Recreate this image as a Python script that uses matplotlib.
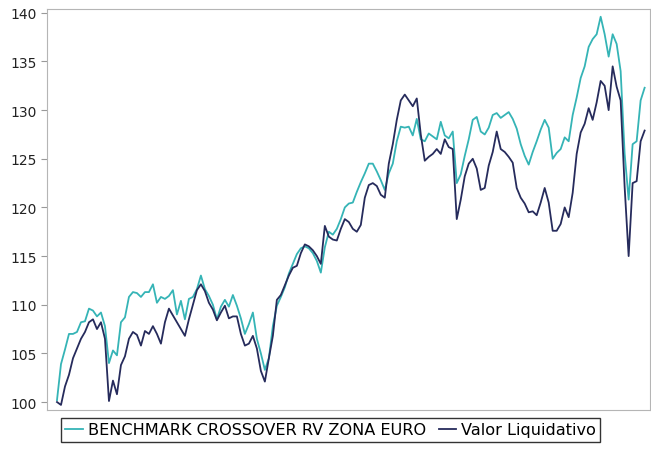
import matplotlib.pyplot as plt

# valores (base 100)
benchmark = [100.2, 103.9, 105.4, 107.0, 107.0, 107.2, 108.2, 108.3, 109.6, 109.4,
             108.8, 109.2, 107.8, 104.0, 105.3, 104.8, 108.2, 108.7, 110.8, 111.3,
             111.2, 110.8, 111.3, 111.3, 112.1, 110.2, 110.8, 110.6, 110.9, 111.5,
             109.0, 110.4, 108.5, 110.6, 110.8, 111.6, 113.0, 111.6, 110.9, 110.0,
             108.5, 109.8, 110.5, 109.8, 111.0, 109.9, 108.6, 107.0, 108.0, 109.2,
             106.5, 105.0, 103.3, 104.5, 107.8, 109.9, 110.8, 111.8, 113.2, 114.2,
             115.2, 115.8, 116.0, 115.8, 115.3, 114.5, 113.3, 115.9, 117.5, 117.2,
             117.8, 118.8, 120.0, 120.4, 120.5, 121.6, 122.6, 123.5, 124.5, 124.5,
             123.7, 122.8, 121.8, 123.5, 124.5, 126.8, 128.3, 128.2, 128.3, 127.4,
             129.1, 127.0, 126.8, 127.6, 127.3, 127.0, 128.8, 127.4, 127.1, 127.8,
             122.5, 123.4, 125.3, 127.0, 129.0, 129.3, 127.8, 127.5, 128.2, 129.5,
             129.7, 129.2, 129.5, 129.8, 129.1, 128.1, 126.5, 125.3, 124.4, 125.7,
             126.8, 128.0, 129.0, 128.2, 125.0, 125.6, 126.0, 127.2, 126.8, 129.5,
             131.3, 133.3, 134.5, 136.5, 137.3, 137.8, 139.6, 137.8, 135.5, 137.8,
             136.8, 134.0, 125.5, 120.8, 126.5, 126.8, 131.0, 132.3]

valor_liquidativo = [100.0, 99.7, 101.6, 102.8, 104.5, 105.5, 106.5, 107.2, 108.2, 108.5,
                     107.5, 108.2, 106.5, 100.1, 102.2, 100.8, 103.8, 104.7, 106.5, 107.2,
                     106.9, 105.8, 107.3, 107.0, 107.8, 107.0, 106.0, 108.2, 109.6, 108.9,
                     108.2, 107.5, 106.8, 108.5, 110.0, 111.5, 112.1, 111.4, 110.2, 109.5,
                     108.4, 109.2, 109.9, 108.6, 108.8, 108.8, 107.0, 105.8, 106.0, 106.8,
                     105.5, 103.2, 102.1, 104.5, 106.8, 110.5, 111.0, 112.0, 113.0, 113.8,
                     114.0, 115.3, 116.2, 116.0, 115.6, 115.0, 114.2, 118.1, 117.0, 116.7,
                     116.6, 117.8, 118.8, 118.5, 117.8, 117.5, 118.2, 121.0, 122.3, 122.5,
                     122.2, 121.3, 121.0, 124.5, 126.5, 129.0, 131.0, 131.6, 131.0, 130.4,
                     131.2, 127.5, 124.8, 125.2, 125.5, 126.0, 125.5, 127.0, 126.2, 126.0,
                     118.8, 120.8, 123.2, 124.5, 125.0, 124.0, 121.8, 122.0, 124.3, 125.7,
                     127.8, 126.0, 125.7, 125.2, 124.6, 122.0, 121.0, 120.4, 119.5, 119.6,
                     119.2, 120.5, 122.0, 120.5, 117.6, 117.6, 118.3, 120.0, 119.0, 121.5,
                     125.5, 127.7, 128.6, 130.2, 129.0, 130.8, 133.0, 132.5, 130.0, 134.5,
                     132.4, 131.0, 122.1, 115.0, 122.5, 122.7, 126.8, 127.9]

dias = list(range(len(benchmark)))

fig = plt.figure(figsize=(6.51, 4.52), dpi=100)
ax = fig.add_axes([0.0722, 0.0907, 0.926, 0.8873])

ax.plot(dias, benchmark, color="#35b4b6", linewidth=1.3,
        label="BENCHMARK CROSSOVER RV ZONA EURO")
ax.plot(dias, valor_liquidativo, color="#262b5c", linewidth=1.3,
        label="Valor Liquidativo")

ax.set_xlim(-2.5, 148.3)
ax.set_ylim(99.18, 140.4)
ax.set_yticks([100, 105, 110, 115, 120, 125, 130, 135, 140])
ax.set_xticks([])
ax.tick_params(axis="y", length=4, color="#999999", labelsize=10, labelcolor="#222222")
for s in ax.spines.values():
    s.set_color("#b5b5b5")

leg = fig.legend(loc="upper center", bbox_to_anchor=(0.508, 0.072), ncol=2,
                 fontsize=11.6, frameon=True, fancybox=False, handlelength=1.1,
                 handletextpad=0.3, columnspacing=0.8, borderpad=0.25,
                 borderaxespad=0)
leg.get_frame().set_edgecolor("black")
leg.get_frame().set_linewidth(1.0)

fig.savefig("out.png", dpi=100)
